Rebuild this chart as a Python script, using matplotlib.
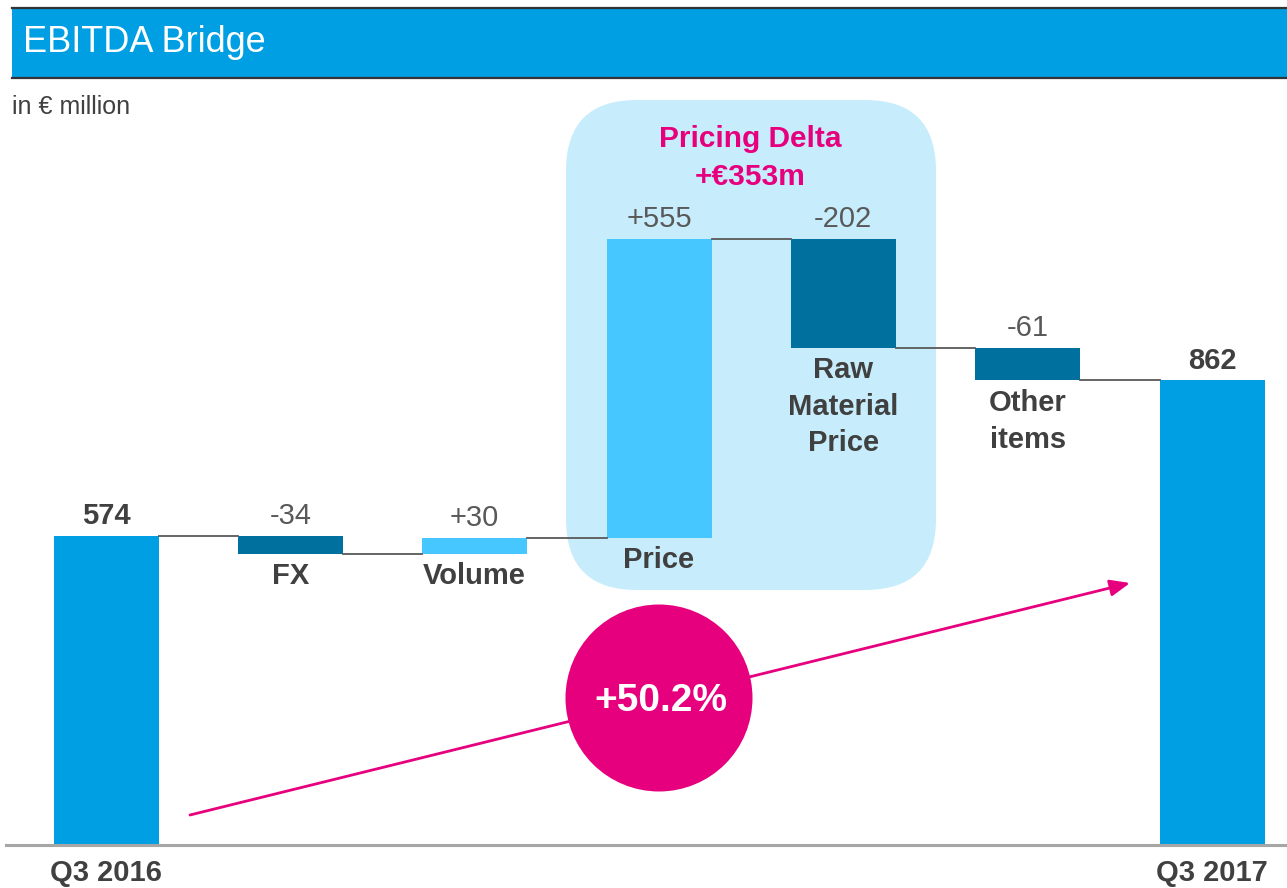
import matplotlib
matplotlib.use('Agg')
import matplotlib.pyplot as plt
from matplotlib.patches import FancyBboxPatch, Ellipse, Rectangle
import numpy as np

# ---- data ----
categories = ['Q3 2016', 'FX', 'Volume', 'Price', 'Raw\nMaterial\nPrice', 'Other\nitems', 'Q3 2017']
values = [574, -34, 30, 555, -202, -61, 862]
value_labels = ['574', '-34', '+30', '+555', '-202', '-61', '862']
is_total = [True, False, False, False, False, False, True]
title = 'EBITDA Bridge'
unit_label = 'in € million'
delta_title = 'Pricing Delta\n+€353m'
growth_label = '+50.2%'

# ---- colors ----
C_TOTAL = '#009FE3'
C_POS = '#47C7FF'
C_NEG = '#00709F'
C_PINK = '#E6007E'
C_BOX = '#C7EDFC'
C_TEXT = '#404040'
C_VAL = '#595959'

W, H = 1287, 888
plt.rcParams['font.family'] = ['Liberation Sans', 'DejaVu Sans']
fig = plt.figure(figsize=(W / 100, H / 100), dpi=100)

def fx(x):
    return x / W

def fy(y):
    return 1 - y / H

# header band
fig.patches.append(Rectangle((fx(12), fy(78)), fx(1287 - 12), (78 - 8) / H,
                             transform=fig.transFigure, facecolor=C_TOTAL,
                             edgecolor='none', zorder=1))
fig.add_artist(plt.Line2D([fx(12), 1], [fy(8), fy(8)], color='#333333', lw=1.6,
                          transform=fig.transFigure, zorder=2))
fig.add_artist(plt.Line2D([fx(12), 1], [fy(78), fy(78)], color='#333333', lw=1.6,
                          transform=fig.transFigure, zorder=2))
fig.text(fx(23), fy(43), title, color='white', fontsize=26, va='center', ha='left')
fig.text(fx(12), fy(107), unit_label, color=C_TEXT, fontsize=18, va='center', ha='left')

# pricing delta box
box = FancyBboxPatch((fx(566), fy(590)), fx(936 - 566), (590 - 100) / H,
                     boxstyle='round,pad=0,rounding_size=0.055',
                     transform=fig.transFigure, facecolor=C_BOX, edgecolor='none',
                     zorder=-1, mutation_aspect=W / H)
fig.patches.append(box)
fig.text(fx(750), fy(158), delta_title, color=C_PINK, fontsize=21.5, fontweight='bold',
         ha='center', va='center', linespacing=1.45)

# axes
ax = fig.add_axes([fx(6), fy(845), (1287 - 6) / W, (845 - 90) / H])
ax.set_facecolor('none')
px_per_unit = 0.539
ax.set_ylim(0, (845 - 90) / px_per_unit)
spacing = (1212 - 106) / 6
ax.set_xlim(-(106 - 6) / spacing, 6 + (1287 - 1212) / spacing)
for s in ax.spines.values():
    s.set_visible(False)
ax.set_xticks([])
ax.set_yticks([])
ax.axhline(0, color='#A6A6A6', lw=2.2, zorder=3, clip_on=False)

x = np.arange(len(categories))
bw = 105 / spacing
bottoms, heights, colors, ends = [], [], [], []
running = 0
for v, t in zip(values, is_total):
    if t:
        b, h, c = 0, v, C_TOTAL
        running = v
    else:
        if v >= 0:
            b, h, c = running, v, C_POS
        else:
            b, h, c = running + v, -v, C_NEG
        running += v
    bottoms.append(b); heights.append(h); colors.append(c); ends.append(running)

ax.bar(x, heights, bottom=bottoms, width=bw, color=colors, edgecolor='none', zorder=2)

# connectors
for i in range(len(x) - 1):
    ax.plot([x[i] + bw / 2, x[i + 1] - bw / 2], [ends[i], ends[i]], color='#595959',
            lw=1.3, zorder=2)

# labels
for i in range(len(x)):
    top = bottoms[i] + heights[i]
    ax.annotate(value_labels[i], (x[i], top), xytext=(0, 4), textcoords='offset points',
                ha='center', va='bottom', fontsize=21,
                color=C_TEXT if is_total[i] else C_VAL,
                fontweight='bold' if is_total[i] else 'normal')
    if is_total[i]:
        ax.annotate(categories[i], (x[i], 0), xytext=(0, -20), textcoords='offset points',
                    ha='center', va='center', fontsize=21, fontweight='bold', color=C_TEXT,
                    annotation_clip=False)
    else:
        ax.annotate(categories[i], (x[i], bottoms[i]), xytext=(0, -6),
                    textcoords='offset points', ha='center', va='top', fontsize=21,
                    fontweight='bold', color=C_TEXT, linespacing=1.4)

# growth arrow and circle
fig.add_artist(matplotlib.patches.FancyArrowPatch((fx(190), fy(815)), (fx(1130), fy(583)),
                                                  transform=fig.transFigure,
                                                  arrowstyle='-|>,head_length=12,head_width=5',
                                                  color=C_PINK, lw=2, zorder=4,
                                                  shrinkA=0, shrinkB=0))
fig.add_artist(Ellipse((fx(659), fy(698)), 187 / W, 187 / H, transform=fig.transFigure,
                       facecolor=C_PINK, edgecolor='none', zorder=5))
fig.text(fx(661), fy(701), growth_label, color='white', fontsize=28, fontweight='bold',
         ha='center', va='center', zorder=6,
         family=['Liberation Sans Narrow', 'Liberation Sans', 'DejaVu Sans'])

fig.savefig('out.png', dpi=100)
